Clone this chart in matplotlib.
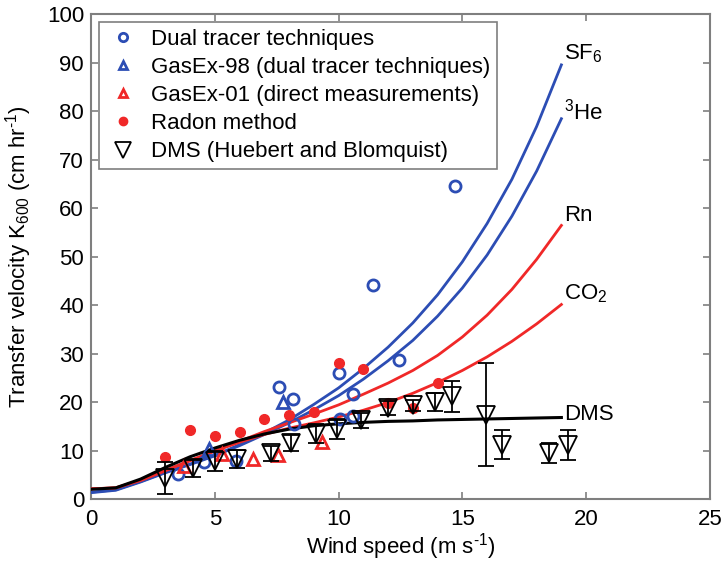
import matplotlib
matplotlib.use('Agg')
import matplotlib.pyplot as plt

plt.rcParams['font.family'] = ['Liberation Sans', 'DejaVu Sans']
plt.rcParams['mathtext.fontset'] = 'custom'
plt.rcParams['mathtext.rm'] = 'Liberation Sans'
plt.rcParams['mathtext.it'] = 'Liberation Sans'

BLUE = '#2c4db4'
RED = '#f02828'
GREY = '#7f7f7f'

# model curves, read at whole wind speeds
u = list(range(0, 20))
k_sf6 = [1.5, 2.0, 3.7, 5.6, 7.3, 9.1, 11.3, 13.7, 16.4, 19.6, 23.0, 27.0, 31.4, 36.4,
         42.2, 49.0, 56.9, 66.0, 76.9, 89.6]
k_he3 = [1.4, 1.9, 3.6, 5.5, 7.2, 9.0, 11.1, 13.4, 15.8, 18.5, 21.4, 24.8, 28.6, 32.8,
         37.8, 43.6, 50.4, 58.4, 67.7, 78.5]
k_rn = [2.2, 2.4, 3.9, 5.9, 8.0, 10.0, 12.0, 14.0, 15.8, 17.6, 19.5, 21.7, 24.0, 26.6,
        29.7, 33.5, 38.0, 43.3, 49.5, 56.5]
k_co2 = [2.2, 2.4, 4.0, 6.0, 8.0, 10.0, 11.8, 13.4, 14.7, 15.8, 17.0, 18.4, 20.0, 21.9,
         24.1, 26.6, 29.4, 32.6, 36.2, 40.2]
k_dms = [2.1, 2.4, 4.2, 6.6, 8.8, 10.6, 12.2, 13.5, 14.5, 15.2, 15.6, 15.9, 16.1, 16.2,
         16.4, 16.5, 16.6, 16.7, 16.8, 16.9]

# observations
dual_u = [3.5, 4.55, 5.85, 7.6, 8.15, 8.2, 10.0, 10.05, 10.6, 10.6, 11.4, 12.45, 14.7]
dual_k = [5.3, 7.8, 7.9, 23.1, 20.8, 15.6, 26.0, 16.5, 21.7, 17.2, 44.2, 28.7, 64.6]

gasex98_u = [4.78, 7.75]
gasex98_k = [10.4, 20.2]

gasex01_u = [3.76, 5.3, 6.55, 7.55, 9.35]
gasex01_k = [6.8, 9.4, 8.3, 9.1, 11.9]

radon_u = [3.0, 4.0, 5.0, 6.0, 7.0, 8.0, 9.0, 10.0, 11.0, 12.0, 13.0, 14.0]
radon_k = [8.7, 14.3, 13.1, 13.9, 16.5, 17.4, 18.1, 28.1, 27.0, 19.8, 18.9, 24.1]

dms_u = [3.0, 4.1, 5.0, 5.9, 7.25, 8.06, 9.07, 9.95, 10.9, 12.0, 13.0, 13.9, 14.6,
         15.95, 16.6, 18.5, 19.25]
dms_k = [4.45, 6.4, 7.9, 8.35, 9.5, 11.6, 13.6, 14.5, 16.3, 18.9, 19.4, 20.1, 21.3,
         17.5, 11.3, 9.55, 11.2]
dms_err = [3.35, 1.7, 2.0, 1.95, 1.5, 1.7, 2.0, 2.0, 1.5, 1.5, 1.2, 1.8, 3.2,
           10.7, 3.0, 2.05, 3.1]

fig = plt.figure(figsize=(7.23, 5.64), dpi=100)
ax = fig.add_axes([0.1259, 0.1144, 0.856, 0.860])

ax.plot(u, k_sf6, color=BLUE, lw=2.0, zorder=3)
ax.plot(u, k_he3, color=BLUE, lw=2.0, zorder=3)
ax.plot(u, k_rn, color=RED, lw=2.0, zorder=3)
ax.plot(u, k_co2, color=RED, lw=2.0, zorder=3)
ax.plot(u, k_dms, color='black', lw=2.2, zorder=3)

ax.plot(dual_u, dual_k, 'o', ms=8, mfc='none', mec=BLUE, mew=2.0,
        label='Dual tracer techniques', zorder=4)
ax.plot(gasex98_u, gasex98_k, '^', ms=8, mfc='none', mec=BLUE, mew=2.0,
        label='GasEx-98 (dual tracer techniques)', zorder=4)
ax.plot(gasex01_u, gasex01_k, '^', ms=8, mfc='none', mec=RED, mew=2.0,
        label='GasEx-01 (direct measurements)', zorder=4)
ax.plot(radon_u, radon_k, 'o', ms=7, mfc=RED, mec=RED,
        label='Radon method', zorder=4)
ax.errorbar(dms_u, dms_k, yerr=dms_err, fmt='none', ecolor='black', elinewidth=1.3,
            capsize=5.5, capthick=1.3, zorder=5)
ax.plot(dms_u, dms_k, 'v', ms=13, mfc='none', mec='black', mew=1.3,
        label='DMS (Huebert and Blomquist)', zorder=5)

# curve labels
fs = 16
ax.text(19.1, 92.0, 'SF$_6$', fontsize=fs, va='center', ha='left')
ax.text(19.1, 80.0, '$^3$He', fontsize=fs, va='center', ha='left')
ax.text(19.1, 58.5, 'Rn', fontsize=fs, va='center', ha='left')
ax.text(19.1, 42.5, 'CO$_2$', fontsize=fs, va='center', ha='left')
ax.text(19.1, 17.6, 'DMS', fontsize=fs, va='center', ha='left')

ax.set_xlim(0, 25)
ax.set_ylim(0, 100)
ax.set_xticks(range(0, 26, 5))
ax.set_yticks(range(0, 101, 10))
ax.tick_params(direction='in', length=5, width=1.2, color=GREY, labelsize=fs,
               top=True, right=True)
ax.tick_params(axis='x', pad=7)
ax.tick_params(axis='y', pad=5)
for sp in ax.spines.values():
    sp.set_color(GREY)
    sp.set_linewidth(1.5)

ax.set_xlabel(r'Wind speed (m s$^{\text{-1}}$)', fontsize=fs, labelpad=1)
ax.set_ylabel(r'Transfer velocity K$_{600}$ (cm hr$^{\text{-1}}$)', fontsize=fs, labelpad=9)

leg = ax.legend(loc='upper left', fontsize=fs, frameon=True, fancybox=False,
                borderaxespad=0.35, labelspacing=0.32, handletextpad=0.45,
                handlelength=1.6, borderpad=0.3, numpoints=1)
leg.get_frame().set_edgecolor(GREY)
leg.get_frame().set_linewidth(1.2)
leg.get_frame().set_alpha(1.0)
for h in leg.legend_handles:
    h.set_markersize(6 if h.get_marker() != 'v' else 12)

fig.savefig('out.png', dpi=100)
